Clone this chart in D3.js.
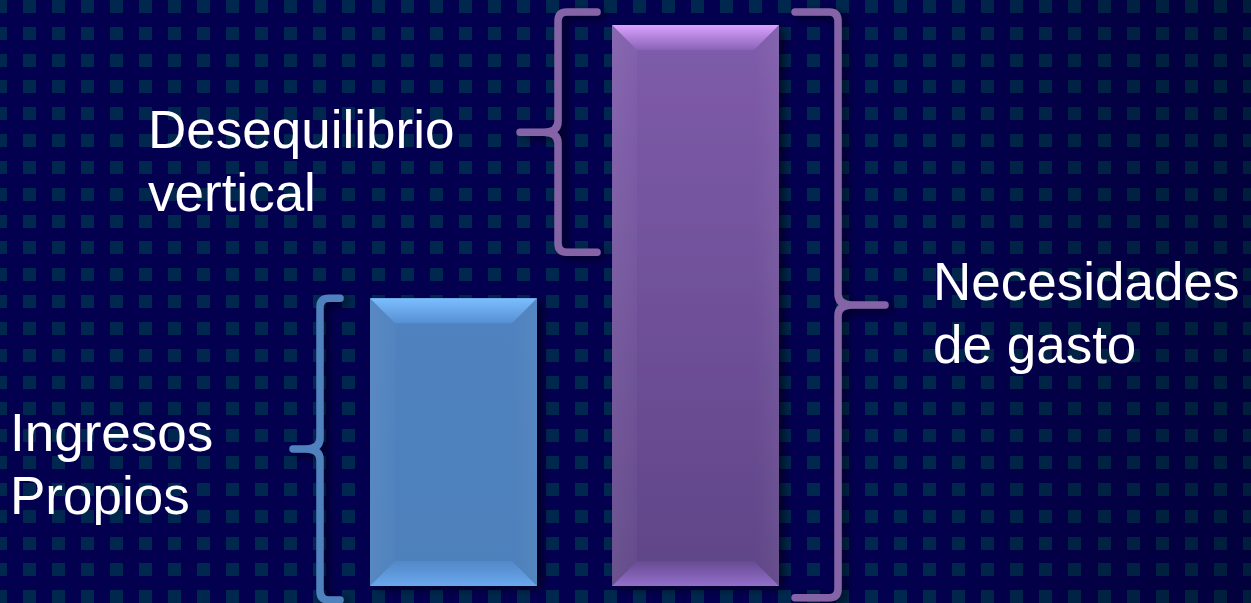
<!DOCTYPE html>
<html><head><meta charset="utf-8">
<script src="https://cdn.jsdelivr.net/npm/d3@7"></script>
<style>html,body{margin:0;padding:0;background:#030050;overflow:hidden}</style>
</head><body>
<svg id="chart" width="1251" height="603"></svg>
<script>
// ---- data ----
const categories = ["Ingresos Propios", "Necesidades de gasto"];
const values = [51.3, 100];
const braceNames = ["Ingresos Propios", "Desequilibrio vertical", "Necesidades de gasto"];
const braceLines = [["Ingresos", "Propios"], ["Desequilibrio", "vertical"], ["Necesidades", "de gasto"]];
const braceFrom = [-2.5, 59.5, -2.1];
const braceTo = [51.3, 102.3, 102.3];

// ---- setup ----
const W = 1251, H = 603;
const svg = d3.select("#chart");
const defs = svg.append("defs");

const x = d3.scaleBand().domain(categories).range([370, 779]).paddingInner(0.31).paddingOuter(0);
const y = d3.scaleLinear().domain([0, 100]).range([586, 25]);

// background + grid of squares
svg.append("rect").attr("width", W).attr("height", H).attr("fill", "#030050");
const cells = [];
d3.range(0, 45).forEach(i => d3.range(0, 23).forEach(j => cells.push([Math.round(-6 + i * 29.04), Math.round(j * 26.83)])));
svg.append("g").selectAll("rect").data(cells).join("rect")
  .attr("x", d => d[0]).attr("y", d => d[1]).attr("width", 13).attr("height", 13)
  .attr("fill", "#00284f").attr("shape-rendering", "crispEdges");

// subtle darkening on the right
const vg = defs.append("linearGradient").attr("id", "vign").attr("x1", 0).attr("x2", 1).attr("y1", 0).attr("y2", 0);
vg.append("stop").attr("offset", 0.7).attr("stop-color", "#000").attr("stop-opacity", 0);
vg.append("stop").attr("offset", 1).attr("stop-color", "#000").attr("stop-opacity", 0.25);
svg.append("rect").attr("width", W).attr("height", H).attr("fill", "url(#vign)");

// shadow filter
const f = defs.append("filter").attr("id", "shadow").attr("x", "-20%").attr("y", "-20%").attr("width", "150%").attr("height", "150%");
f.append("feDropShadow").attr("dx", 5).attr("dy", 3).attr("stdDeviation", 5)
  .attr("flood-color", "#000").attr("flood-opacity", 0.6);

function grad(id, c0, c1, o0, o1, vertical = true) {
  const g = defs.append("linearGradient").attr("id", id)
    .attr("x1", 0).attr("y1", 0).attr("x2", vertical ? 0 : 1).attr("y2", vertical ? 1 : 0);
  g.append("stop").attr("offset", 0).attr("stop-color", c0).attr("stop-opacity", o0 == null ? 1 : o0);
  g.append("stop").attr("offset", 1).attr("stop-color", c1).attr("stop-opacity", o1 == null ? 1 : o1);
  return `url(#${id})`;
}

const barStyles = [
  { base: grad("b0base", "#4f82bf", "#4e80bc"),
    top: grad("b0top", "#7cbefe", "#5690d4"),
    bottom: grad("b0bot", "#5288c8", "#6aa8ee"),
    left: grad("b0left", "#ffffff", "#ffffff", 0.06, 0.02, false),
    right: grad("b0right", "#ffffff", "#ffffff", 0.0, 0.04, false) },
  { base: grad("b1base", "#7f5cab", "#5f4587"),
    top: grad("b1top", "#dba2ff", "#8963b8"),
    bottom: grad("b1bot", "#674b92", "#946fcb"),
    left: grad("b1left", "#ffffff", "#ffffff", 0.07, 0.03, false),
    right: grad("b1right", "#ffffff", "#ffffff", 0.0, 0.05, false) }
];

const bars = svg.append("g");
categories.forEach((c, i) => {
  const x0 = x(c), x1 = x(c) + x.bandwidth(), y0 = y(values[i]), y1 = y(0);
  const b = 25, s = barStyles[i];
  const g = bars.append("g");
  g.append("rect").attr("x", x0).attr("y", y0).attr("width", x1 - x0).attr("height", y1 - y0)
    .attr("fill", s.base).attr("filter", "url(#shadow)");
  const poly = pts => pts.map(p => p.join(",")).join(" ");
  g.append("polygon").attr("points", poly([[x0, y0], [x0 + b, y0 + b], [x0 + b, y1 - b], [x0, y1]])).attr("fill", s.left);
  g.append("polygon").attr("points", poly([[x1, y0], [x1 - b, y0 + b], [x1 - b, y1 - b], [x1, y1]])).attr("fill", s.right);
  g.append("polygon").attr("points", poly([[x0, y0], [x1, y0], [x1 - b, y0 + b], [x0 + b, y0 + b]])).attr("fill", s.top);
  g.append("polygon").attr("points", poly([[x0, y1], [x1, y1], [x1 - b, y1 - b], [x0 + b, y1 - b]])).attr("fill", s.bottom);
});

// braces
function bracePath(xv, xe, yTop, yBot, xTip) {
  const d = Math.sign(xTip - xv); // tip side
  const s = Math.sign(xe - xv);   // end side
  const r = 9, rm = 11;
  const yMid = (yTop + yBot) / 2;
  return `M${xe},${yTop} L${xv + s * r},${yTop} Q${xv},${yTop} ${xv},${yTop + r}` +
    ` L${xv},${yMid - rm} Q${xv},${yMid} ${xv + d * 14},${yMid} L${xTip},${yMid}` +
    ` M${xv + d * 14},${yMid} Q${xv},${yMid} ${xv},${yMid + rm}` +
    ` L${xv},${yBot - r} Q${xv},${yBot} ${xv + s * r},${yBot} L${xe},${yBot}`;
}
const bw = x.bandwidth();
const braceGeom = [
  { xv: x(categories[0]) - 50, xe: x(categories[0]) - 30, xTip: x(categories[0]) - 77, color: "#5081bf" },
  { xv: x(categories[1]) - 54, xe: x(categories[1]) - 15, xTip: x(categories[1]) - 92, color: "#8464a6" },
  { xv: x(categories[1]) + bw + 59, xe: x(categories[1]) + bw + 16, xTip: x(categories[1]) + bw + 106, color: "#8464a6" }
];
const braces = svg.append("g");
braceNames.forEach((n, i) => {
  const gm = braceGeom[i];
  braces.append("path").attr("d", bracePath(gm.xv, gm.xe, y(braceTo[i]), y(braceFrom[i]), gm.xTip))
    .attr("fill", "none").attr("stroke", gm.color).attr("stroke-width", 7.5)
    .attr("stroke-linecap", "round").attr("stroke-linejoin", "round").attr("filter", "url(#shadow)");
});

// labels
const labelPos = [{ x: 10, y: 451 }, { x: 148, y: 148 }, { x: 933, y: 300 }];
braceLines.forEach((lines, i) => {
  const t = svg.append("text").attr("x", labelPos[i].x).attr("y", labelPos[i].y)
    .attr("fill", "#ffffff").attr("font-family", "Liberation Sans, Arial, sans-serif").attr("font-size", 53);
  lines.forEach((l, j) => t.append("tspan").attr("x", labelPos[i].x).attr("dy", j === 0 ? 0 : 62.5).text(l));
});
</script>
</body></html>
